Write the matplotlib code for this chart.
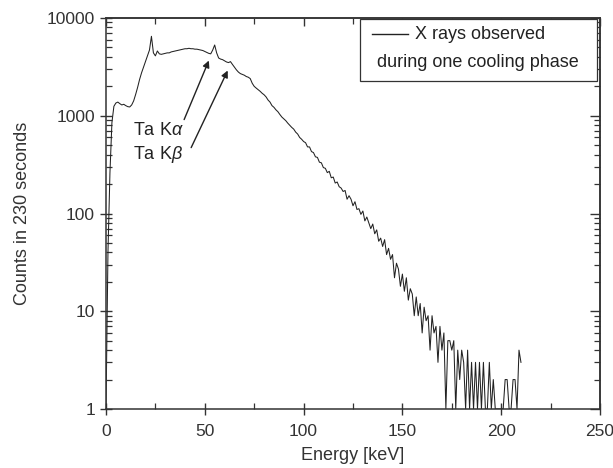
import numpy as np
import matplotlib
matplotlib.use("Agg")
import matplotlib.pyplot as plt
from matplotlib.ticker import MultipleLocator, LogLocator, FixedLocator, FuncFormatter, NullFormatter

plt.rcParams['font.family'] = ['Liberation Sans', 'DejaVu Sans']
plt.rcParams['mathtext.fontset'] = 'custom'
plt.rcParams['mathtext.it'] = 'Liberation Sans:italic'
plt.rcParams['mathtext.rm'] = 'Liberation Sans'

# spectrum, 1 keV bins, counts
energy_kev = np.arange(0, 211)
counts = [
    1, 40, 260, 850, 1250, 1350, 1380, 1330, 1290, 1310,          # 0-9
    1270, 1240, 1230, 1290, 1420, 1650, 1950, 2350, 2750, 3150,   # 10-19
    3600, 4100, 4700, 6500, 4400, 4100, 4600, 4300, 4250, 4300,   # 20-29
    4350, 4400, 4400, 4500, 4550, 4600, 4650, 4700, 4750, 4800,   # 30-39
    4850, 4850, 4900, 4850, 4850, 4800, 4800, 4750, 4700, 4650,   # 40-49
    4550, 4450, 4350, 4300, 4700, 5300, 4400, 3900, 3800, 3750,   # 50-59
    3650, 3550, 3500, 3580, 3350, 3150, 2950, 2800, 2700, 2650,   # 60-69
    2600, 2520, 2480, 2400, 2150, 2000, 1920, 1850, 1780, 1700,   # 70-79
    1640, 1560, 1450, 1380, 1270, 1220, 1150, 1100, 1030, 970,    # 80-89
    930, 890, 840, 800, 760, 730, 680, 650, 600, 575,             # 90-99
    545, 530, 480, 480, 430, 420, 380, 375, 335, 330,             # 100-109
    295, 290, 262, 270, 232, 236, 205, 210, 188, 182,             # 110-119
    168, 172, 140, 152, 140, 120, 132, 110, 112, 98,              # 120-129
    106, 84, 92, 80, 70, 78, 62, 68, 52, 56,                      # 130-139
    46, 54, 38, 44, 34, 38, 22, 31, 27, 18,                       # 140-149
    24, 16, 22, 13, 17, 15, 9, 14, 9, 12,                         # 150-159
    6, 11, 8, 9, 4, 9, 6, 7, 3, 7,                                # 160-169
    4, 6, 1, 5, 5, 4, 5, 1, 4, 2,                                 # 170-179
    4, 3, 1, 4, 1, 3, 1, 3, 1, 3,                                 # 180-189
    1, 3, 1, 1, 3, 1, 2, 1, 1, 1,                                 # 190-199
    1, 1, 2, 2, 1, 1, 2, 2, 1, 4,                                 # 200-209
    3,                                                            # 210
]

x_major = [0, 50, 100, 150, 200, 250]
y_major = [1, 10, 100, 1000, 10000]
legend_lines = ["X rays observed", "during one cooling phase"]

fig = plt.figure(figsize=(6.13, 4.68), dpi=100)
ax = fig.add_axes([0.1729, 0.1261, 0.8059, 0.8354])

ax.plot(energy_kev, counts, color='#222222', linewidth=0.75)

ax.set_yscale('log')
ax.set_xlim(0, 250)
ax.set_ylim(1, 10000)

ax.xaxis.set_major_locator(FixedLocator(x_major))
ax.xaxis.set_minor_locator(MultipleLocator(25))
ax.yaxis.set_major_locator(FixedLocator(y_major))
ax.yaxis.set_minor_locator(LogLocator(base=10, subs=np.arange(2, 10)))
ax.yaxis.set_major_formatter(FuncFormatter(lambda v, p: f"{int(round(v))}"))
ax.yaxis.set_minor_formatter(NullFormatter())

for s in ax.spines.values():
    s.set_linewidth(1.1)
    s.set_color('#333333')

ax.tick_params(which='major', direction='inout', length=9, width=1.0, color='#333333',
               labelsize=12.5, labelcolor='#333333', top=False, right=False)
ax.tick_params(which='minor', direction='in', length=4, width=0.9, color='#333333',
               top=False, right=False)
ax.tick_params(axis='x', which='major', pad=6)

# mirrored inward ticks on top and right
top = ax.secondary_xaxis('top')
top.xaxis.set_major_locator(FixedLocator(x_major))
top.xaxis.set_minor_locator(MultipleLocator(25))
top.tick_params(which='major', direction='in', length=6, width=1.0, color='#333333', labeltop=False)
top.tick_params(which='minor', direction='in', length=4, width=0.9, color='#333333')
right = ax.secondary_yaxis('right')
right.yaxis.set_major_locator(FixedLocator(y_major))
right.yaxis.set_minor_locator(LogLocator(base=10, subs=np.arange(2, 10)))
right.yaxis.set_minor_formatter(NullFormatter())
right.tick_params(which='major', direction='in', length=7, width=1.0, color='#333333', labelright=False)
right.tick_params(which='minor', direction='in', length=4, width=0.9, color='#333333')
for sec in (top, right):
    for s in sec.spines.values():
        s.set_linewidth(1.1)
        s.set_color('#333333')

ax.set_xlabel("Energy [keV]", fontsize=13, color='#333333', labelpad=6)
ax.set_ylabel("Counts in 230 seconds", fontsize=13, color='#333333', labelpad=11)

# line annotations
ax.annotate("", xy=(52.6, 3900), xytext=(39, 860),
            arrowprops=dict(arrowstyle='-|>', color='#222222', lw=1.0, mutation_scale=10))
ax.annotate("", xy=(62.2, 3080), xytext=(42.5, 445),
            arrowprops=dict(arrowstyle='-|>', color='#222222', lw=1.0, mutation_scale=10))
ax.text(13.7, 700, r"Ta K$\alpha$", fontsize=13, color='#222222', va='center', ha='left')
ax.text(13.7, 400, r"Ta K$\beta$", fontsize=13, color='#222222', va='center', ha='left')

# legend box
box = plt.Rectangle((0.514, 0.840), 0.479, 0.157, transform=ax.transAxes,
                    facecolor='white', edgecolor='#333333', linewidth=0.9, zorder=5)
ax.add_patch(box)
ax.plot([0.538, 0.611], [0.959, 0.959], transform=ax.transAxes, color='#222222',
        linewidth=1.0, zorder=6)
ax.text(0.626, 0.959, legend_lines[0], transform=ax.transAxes, fontsize=13,
        color='#222222', va='center', ha='left', zorder=6)
ax.text(0.753, 0.887, legend_lines[1], transform=ax.transAxes, fontsize=13,
        color='#222222', va='center', ha='center', zorder=6)

fig.savefig("out.png", dpi=100)
